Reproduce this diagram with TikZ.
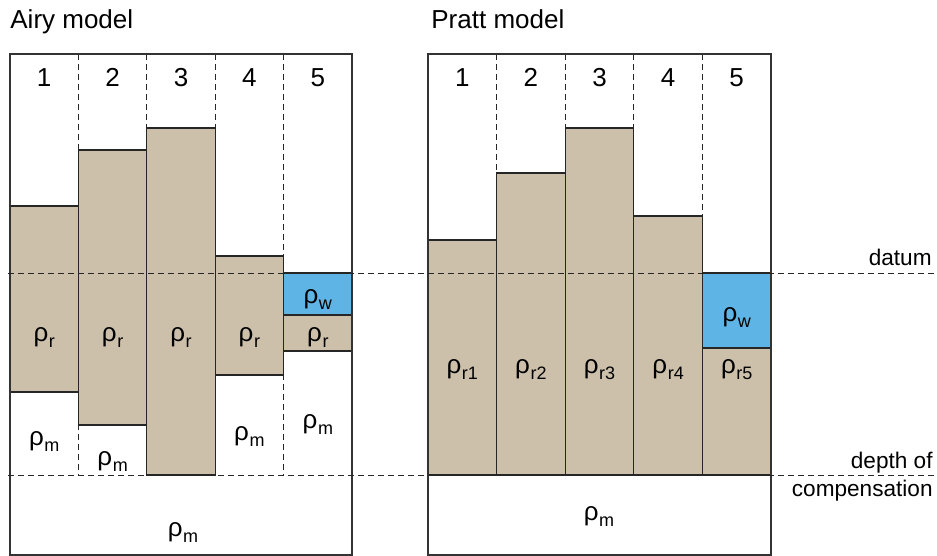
\documentclass[tikz,border=0pt]{standalone}
\usepackage{fontspec}
\setmainfont{Liberation Sans}
\definecolor{rockcol}{RGB}{204,192,171}
\definecolor{seacol}{RGB}{94,180,228}
\newcommand{\dens}[1]{ρ\kern0.3pt\raisebox{-3pt}{\fontsize{9}{9}\selectfont #1}}

\begin{document}
\begin{tikzpicture}[x=0.5pt,y=-0.5pt,
  every node/.style={font=\fontsize{13}{15}\selectfont, inner sep=0pt},
  level/.style={font=\fontsize{11.3}{14}\selectfont, anchor=base east, align=right},
  frame/.style={draw=black!80, line width=0.6pt},
  rock/.style={fill=rockcol, draw=black!85, line width=0.6pt},
  sea/.style={fill=seacol, draw=black!85, line width=0.6pt},
  guide/.style={draw=black!85, line width=0.45pt, dash pattern=on 3pt off 2pt}]
\useasboundingbox (0,0) rectangle (937,556);

% titles
\node[anchor=base west] (airy) at (10,28.5) {Airy model};
\node[anchor=base west] (pratt) at (431,28.5) {Pratt model};

% column dividers
\foreach \i in {1,...,4} {
  \draw[guide] ({10+\i*68.4},54) -- ({10+\i*68.4},475);
  \draw[guide] ({428+\i*68.6},54) -- ({428+\i*68.6},475);
}

% Airy: equal density, varying thickness
\foreach \i/\t/\b in {1/206/392, 2/150/425, 3/128/475, 4/256/375}
  \draw[rock] ({10+(\i-1)*68.4},\t) rectangle ++(68.4,{\b-\t});
\draw[sea] (283.6,273) rectangle (352,315);
\draw[rock] (283.6,315) rectangle (352,351);

% Pratt: flat base, varying density
\foreach \i/\t in {1/240, 2/173, 3/128, 4/216}
  \draw[rock] ({428+(\i-1)*68.6},\t) rectangle ++(68.6,{475-\t});
\draw[sea] (702.4,273) rectangle (771,348);
\draw[rock] (702.4,348) rectangle (771,475);

% outlines
\draw[frame] (10,54) rectangle (352,555);
\draw[frame] (428,54) rectangle (771,555);

% datum and compensation level
\coordinate (datumL) at (8,273);
\coordinate (datumR) at (937,273);
\coordinate (compL) at (8,475);
\coordinate (compR) at (937,475);
\draw[guide] (datumL) -- (datumR);
\draw[guide] (compL) -- (compR);
\node[level] (datum) at (932,265) {datum};
\node[level] (comp) at (933,496) {depth of\\compensation};

% column numbers
\foreach \i in {1,...,5} {
  \node[anchor=base] (an\i) at ({10+(\i-0.5)*68.4},87) {\i};
  \node[anchor=base] (pn\i) at ({428+(\i-0.5)*68.6},87) {\i};
}

% Airy densities
\foreach \i in {1,...,4}
  \node[anchor=base] (ar\i) at ({10+(\i-0.5)*68.4},341) {\dens{r}};
\node[anchor=base] (aw) at (317.8,303) {\dens{w}};
\node[anchor=base] (ar5) at (317.8,341) {\dens{r}};
\node[anchor=base] (am1) at (44.2,445) {\dens{m}};
\node[anchor=base] (am2) at (112.6,465) {\dens{m}};
\node[anchor=base] (am4) at (249.4,440) {\dens{m}};
\node[anchor=base] (am5) at (317.8,428) {\dens{m}};
\node[anchor=base] (am) at (183,536) {\dens{m}};

% Pratt densities
\foreach \i in {1,...,5}
  \node[anchor=base] (pr\i) at ({428+(\i-0.5)*68.6},373) {\dens{r\i}};
\node[anchor=base] (pw) at (736.7,321) {\dens{w}};
\node[anchor=base] (pm) at (599,520) {\dens{m}};
\end{tikzpicture}
\end{document}
